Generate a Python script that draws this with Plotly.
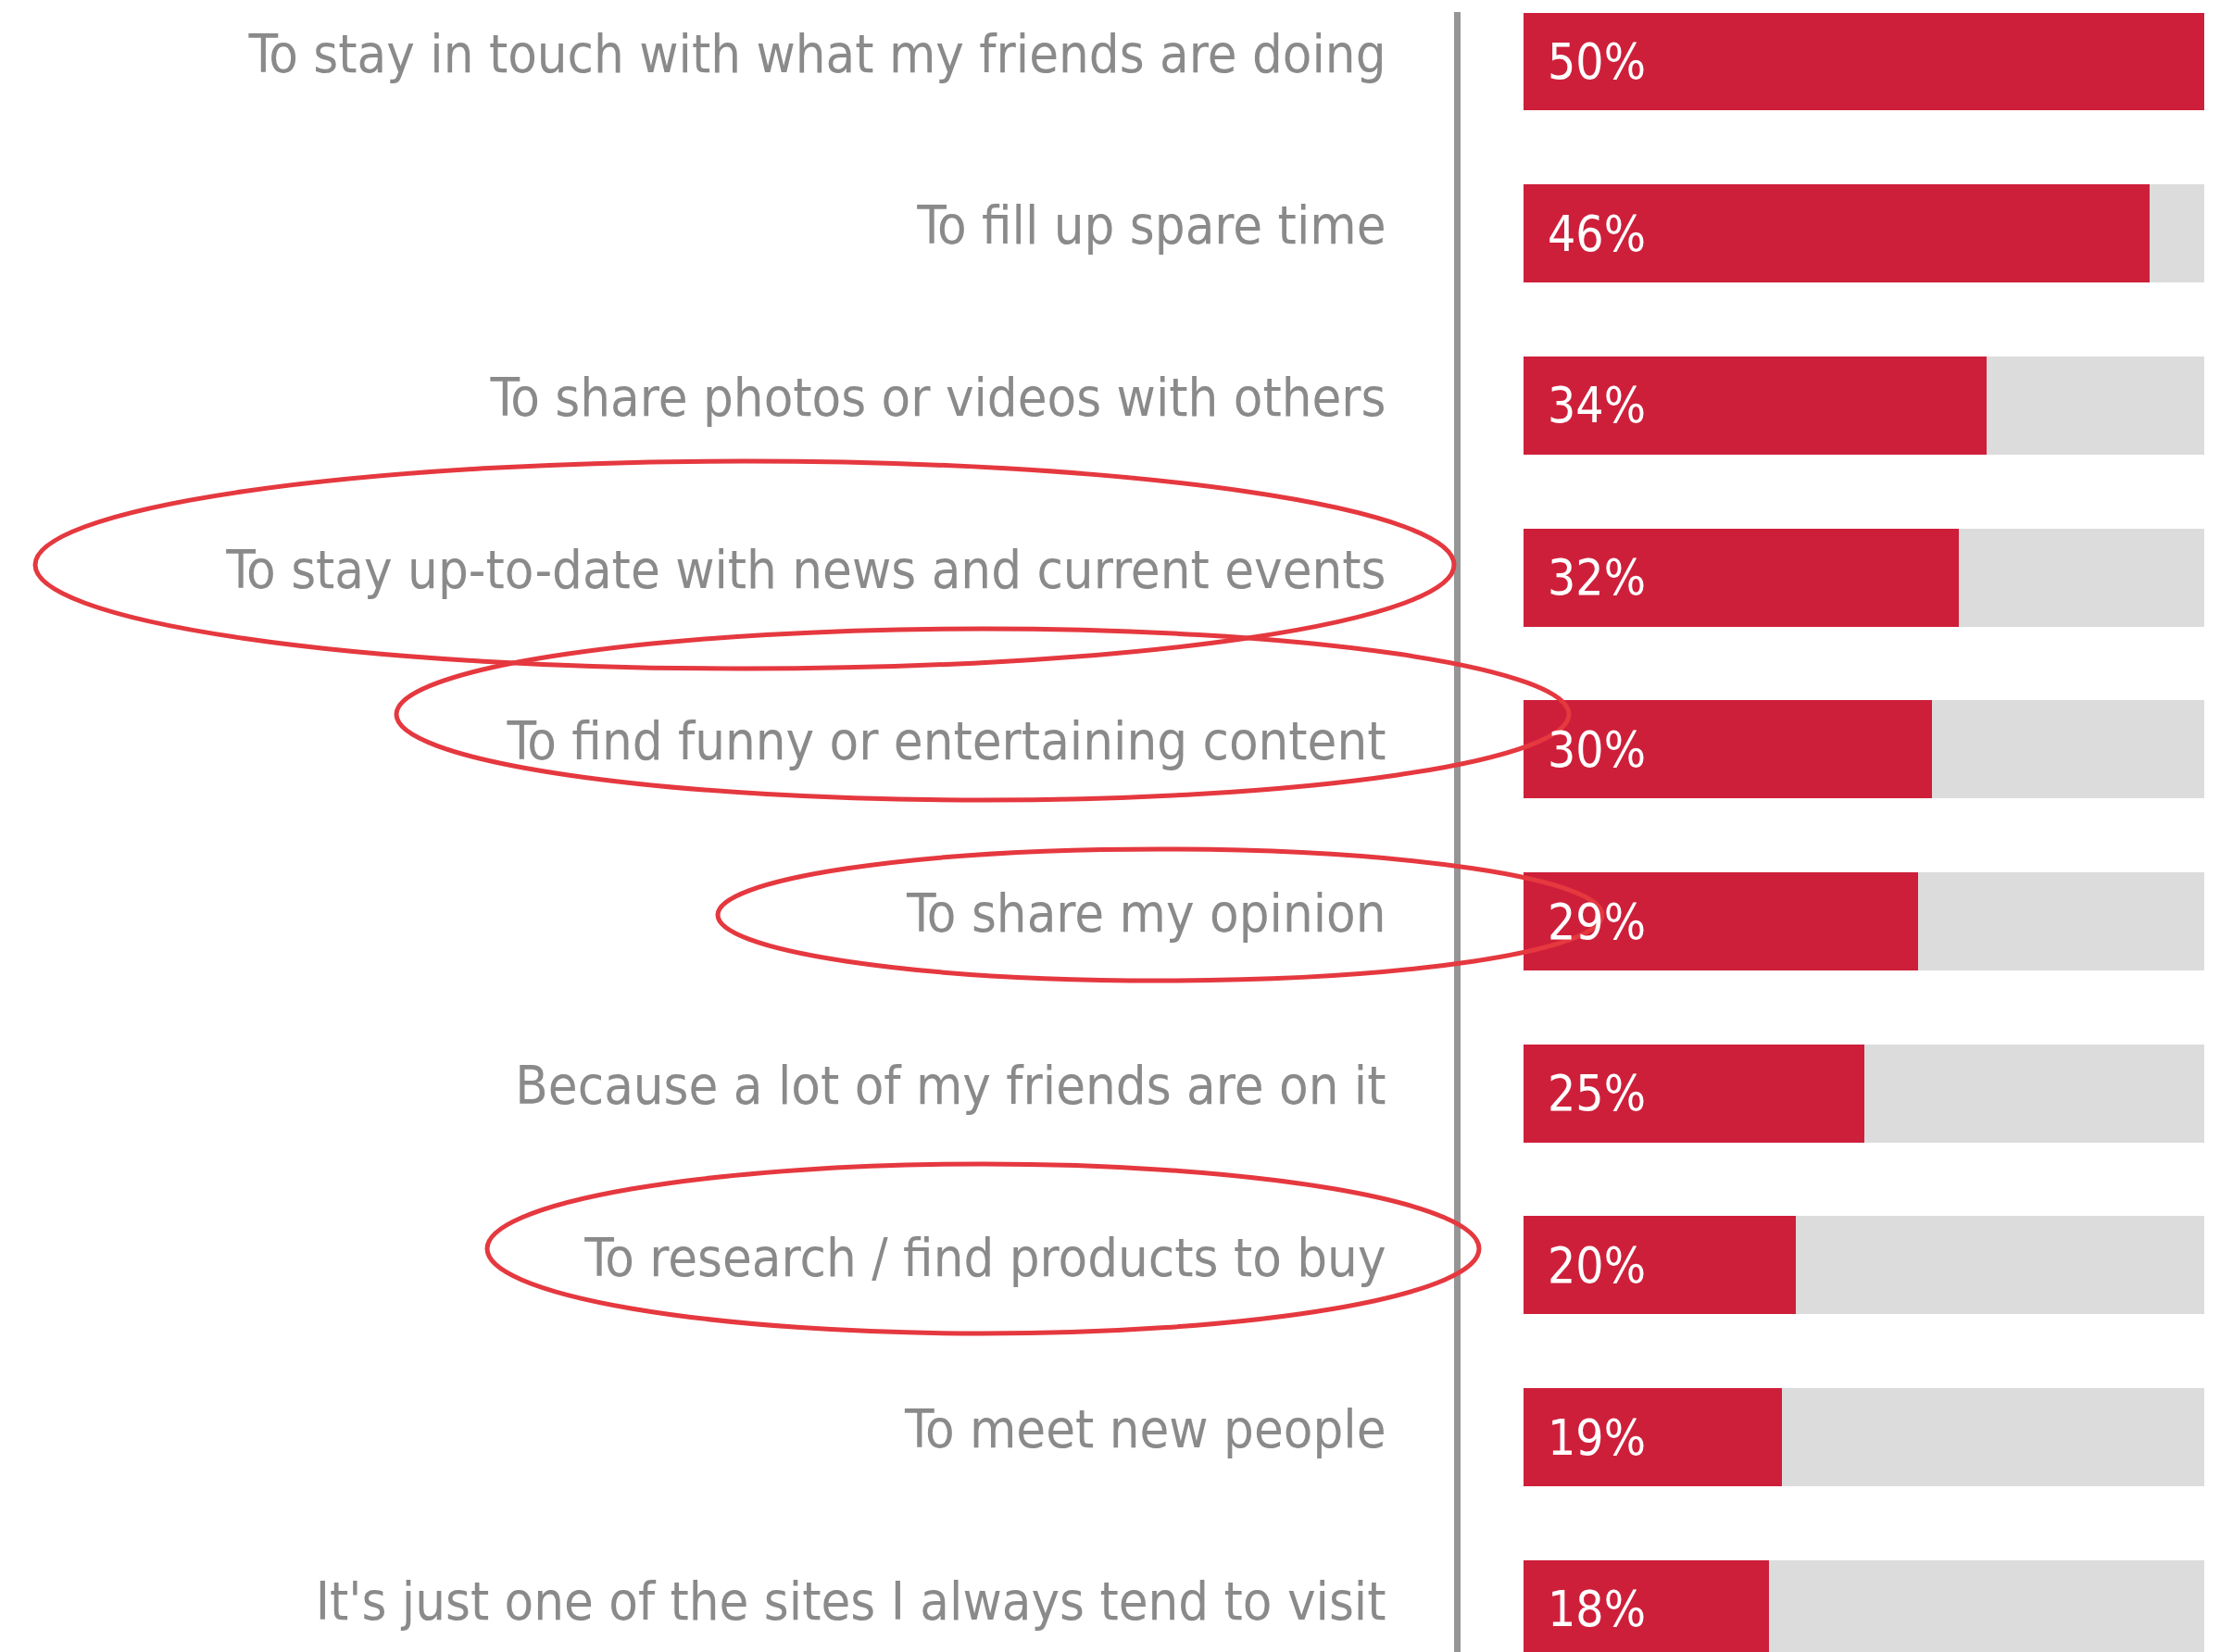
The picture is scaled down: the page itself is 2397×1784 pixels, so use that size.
import plotly.graph_objects as go

categories = [
    "To stay in touch with what my friends are doing",
    "To fill up spare time",
    "To share photos or videos with others",
    "To stay up-to-date with news and current events",
    "To find funny or entertaining content",
    "To share my opinion",
    "Because a lot of my friends are on it",
    "To research / find products to buy",
    "To meet new people",
    "It's just one of the sites I always tend to visit",
]
values = [50, 46, 34, 32, 30, 29, 25, 20, 19, 18]
track_max = 50

# page body has an 8px margin; work in window pixels and subtract it
OFF = 8
W, H = 2397 - OFF, 1784 - OFF
AXIS_X = 1577 - OFF
BAR_X0 = 1645 - OFF
BAR_X1 = 2380 - OFF
L, R, T, B = AXIS_X, W - BAR_X1, 13 - OFF, 0
RED = "#CE1F3A"
TRACK = "#DCDCDC"
FONT = "Liberation Sans Narrow, DejaVu Sans Condensed, sans-serif"

fig = go.Figure()
fig.add_trace(go.Bar(
    y=categories, x=[track_max] * len(categories), orientation="h",
    marker=dict(color=TRACK, line=dict(width=0)), width=0.57,
    hoverinfo="skip", showlegend=False,
))
fig.add_trace(go.Bar(
    y=categories, x=values, orientation="h",
    marker=dict(color=RED, line=dict(width=0)), width=0.57,
    showlegend=False,
))

for c, v in zip(categories, values):
    fig.add_annotation(
        x=0, y=c, xref="x", yref="y", text=f"{v}%", showarrow=False,
        xanchor="left", yanchor="middle", xshift=24,
        font=dict(family=FONT, size=53, color="white"),
    )

plot_w = W - L - R
plot_h = H - T - B

def px_x(p):
    return (p - OFF - L) / plot_w

def px_y(p):
    return (H - B - (p - OFF)) / plot_h

ellipses_px = [
    (38, 498, 1570, 722),
    (428, 679, 1694, 864),
    (775, 917, 1730, 1059),
    (526, 1257, 1597, 1440),
]
for (x0, y0, x1, y1) in ellipses_px:
    fig.add_shape(
        type="circle", xref="paper", yref="paper",
        x0=px_x(x0), x1=px_x(x1), y0=px_y(y1), y1=px_y(y0),
        line=dict(color="#E5383F", width=5), layer="above",
    )

ppc = 185.7
first_center = 66.5 - 13
fig.update_layout(
    width=W, height=H,
    margin=dict(l=L, r=R, t=T, b=B, pad=0),
    paper_bgcolor="white", plot_bgcolor="white",
    barmode="overlay", bargap=0,
    xaxis=dict(range=[-(BAR_X0 - AXIS_X) / ((BAR_X1 - BAR_X0) / track_max), track_max],
               visible=False, fixedrange=True),
    yaxis=dict(
        type="category", categoryorder="array", categoryarray=categories,
        range=[(plot_h - first_center) / ppc, -first_center / ppc],
        showline=True, linecolor="#959595", linewidth=7, mirror=False,
        showgrid=False, zeroline=False,
        ticks="outside", ticklen=62, tickcolor="rgba(0,0,0,0)", tickwidth=0,
        ticklabelshift=9,
        tickfont=dict(family=FONT, size=57.5, color="#8A8A8A"),
        fixedrange=True,
    ),
)

fig.write_html("out.html")
